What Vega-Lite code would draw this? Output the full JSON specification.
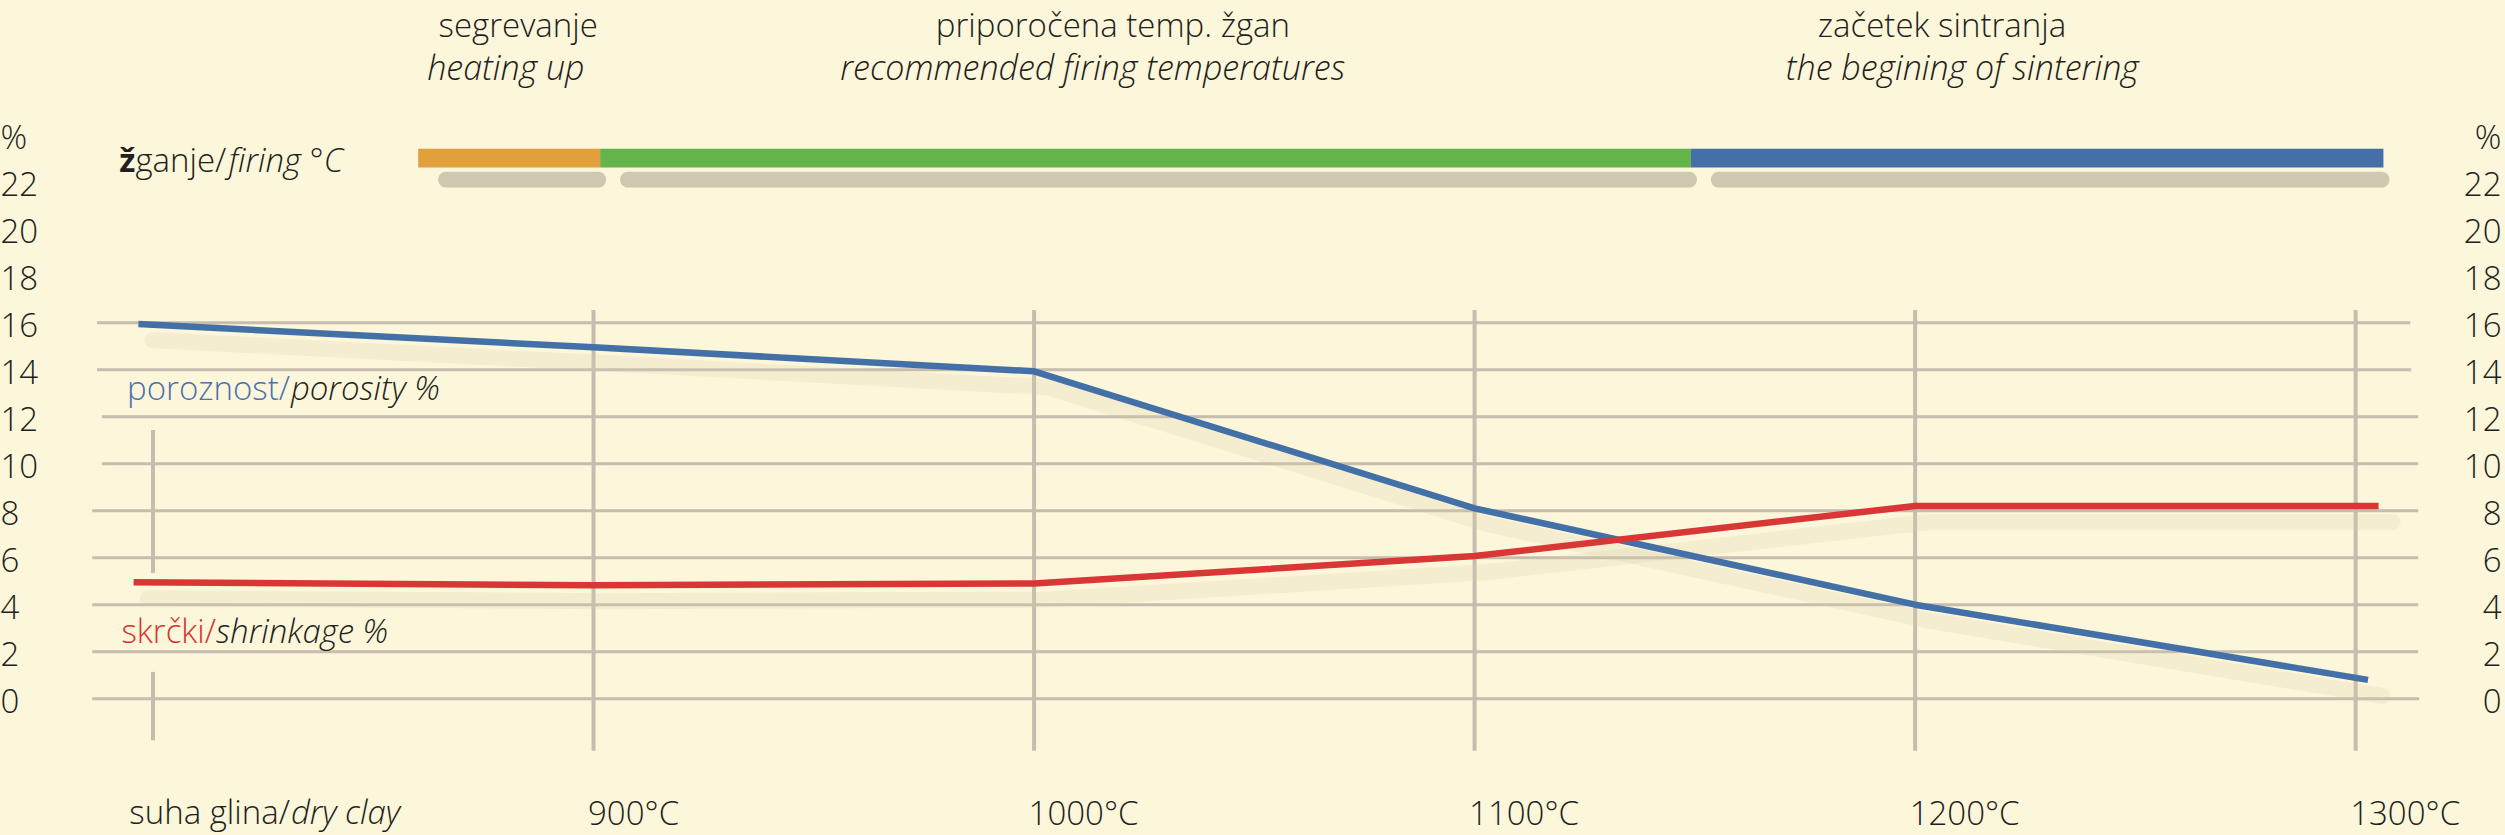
{
  "$schema": "https://vega.github.io/schema/vega-lite/v6.json",
  "width": 2505,
  "height": 835,
  "padding": 0,
  "autosize": {"type": "none"},
  "background": "#FCF6DA",
  "config": {
    "view": {"stroke": null},
    "text": {"font": "Open Sans", "fontSize": 33, "fontWeight": 300, "color": "#231F20"}
  },
  "datasets": {
    "series": [
      {"temp": 796.7, "value": 15.94, "series": "porosity"},
      {"temp": 900, "value": 14.95, "series": "porosity"},
      {"temp": 1000, "value": 13.93, "series": "porosity"},
      {"temp": 1100, "value": 8.1, "series": "porosity"},
      {"temp": 1200, "value": 4.0, "series": "porosity"},
      {"temp": 1302.8, "value": 0.8, "series": "porosity"},
      {"temp": 795.6, "value": 4.95, "series": "shrinkage"},
      {"temp": 900, "value": 4.83, "series": "shrinkage"},
      {"temp": 1000, "value": 4.9, "series": "shrinkage"},
      {"temp": 1100, "value": 6.07, "series": "shrinkage"},
      {"temp": 1200, "value": 8.2, "series": "shrinkage"},
      {"temp": 1305.2, "value": 8.2, "series": "shrinkage"}
    ],
    "hgrid": [
      {"value": 16, "start": 787.3, "end": 1312.4},
      {"value": 14, "start": 787.3, "end": 1312.6},
      {"value": 12, "start": 788.4, "end": 1314.2},
      {"value": 10, "start": 788.4, "end": 1314.2},
      {"value": 8, "start": 786.2, "end": 1314.2},
      {"value": 6, "start": 786.2, "end": 1314.2},
      {"value": 4, "start": 786.2, "end": 1314.2},
      {"value": 2, "start": 786.2, "end": 1314.2},
      {"value": 0, "start": 786.2, "end": 1314.4}
    ],
    "vgrid": [
      {"temp": 800, "from": 11.43, "to": 5.35},
      {"temp": 800, "from": 1.14, "to": -1.77},
      {"temp": 900, "from": 16.54, "to": -2.22},
      {"temp": 1000, "from": 16.54, "to": -2.22},
      {"temp": 1100, "from": 16.54, "to": -2.22},
      {"temp": 1200, "from": 16.54, "to": -2.22},
      {"temp": 1300, "from": 16.54, "to": -2.22}
    ],
    "phases": [
      {"phase": "heating up", "start": 860.2, "end": 901.5},
      {"phase": "recommended", "start": 901.5, "end": 1149.1},
      {"phase": "sintering", "start": 1149.1, "end": 1306.3}
    ]
  },
  "resolve": {"axis": {"x": "independent", "y": "independent"}},
  "layer": [
    {
      "data": {"name": "hgrid"},
      "mark": {"type": "rule", "strokeWidth": 3, "color": "#C6BDAE"},
      "encoding": {
        "x": {"field": "start", "type": "quantitative", "scale": {"domain": [765.27, 1333.9], "nice": false, "zero": false}, "axis": null},
        "x2": {"field": "end"},
        "y": {"field": "value", "type": "quantitative", "scale": {"domain": [-5.8, 29.73], "nice": false, "zero": false},
          "axis": {"orient": "left", "values": [0, 2, 4, 6, 8, 10, 12, 14, 16, 18, 20, 22, 24],
            "labelExpr": "datum.value == 24 ? '%' : datum.label",
            "domain": false, "ticks": false, "tickSize": 0, "grid": false, "title": null,
            "labelAlign": "left", "labelBaseline": "middle", "labelPadding": 0, "offset": 0, "labelOffset": 4,
            "labelFont": "Open Sans", "labelFontSize": 33, "labelFontWeight": 300, "labelColor": "#231F20",
            "labelFlush": false, "labelOverlap": false}}
      }
    },
    {
      "data": {"name": "vgrid"},
      "mark": {"type": "rule", "strokeWidth": 4, "color": "#C6BDAE"},
      "encoding": {
        "x": {"field": "temp", "type": "quantitative", "scale": {"domain": [765.27, 1333.9], "nice": false, "zero": false},
          "axis": {"orient": "bottom", "values": [900, 1000, 1100, 1200, 1300],
            "labelExpr": "datum.value + '°C'",
            "domain": false, "ticks": false, "tickSize": 0, "grid": false, "title": null,
            "labelAlign": "left", "labelBaseline": "alphabetic", "labelPadding": 0, "offset": -11, "labelOffset": -6,
            "labelFont": "Open Sans", "labelFontSize": 33, "labelFontWeight": 300, "labelColor": "#231F20",
            "labelFlush": false, "labelOverlap": false}},
        "y": {"field": "from", "type": "quantitative", "scale": {"domain": [-5.8, 29.73], "nice": false, "zero": false},
          "axis": {"orient": "right", "values": [0, 2, 4, 6, 8, 10, 12, 14, 16, 18, 20, 22, 24],
            "labelExpr": "datum.value == 24 ? '%' : datum.label",
            "domain": false, "ticks": false, "tickSize": 0, "grid": false, "title": null,
            "labelAlign": "right", "labelBaseline": "middle", "labelPadding": 0, "offset": -4, "labelOffset": 4,
            "labelFont": "Open Sans", "labelFontSize": 33, "labelFontWeight": 300, "labelColor": "#231F20",
            "labelFlush": false, "labelOverlap": false}},
        "y2": {"field": "to"}
      }
    },
    {
      "data": {"name": "series"},
      "mark": {"type": "line", "strokeWidth": 16, "opacity": 0.2, "color": "#D6CDA8", "xOffset": 14, "yOffset": 16, "strokeCap": "round"},
      "encoding": {
        "x": {"field": "temp", "type": "quantitative", "axis": null},
        "y": {"field": "value", "type": "quantitative", "axis": null},
        "detail": {"field": "series"}
      }
    },
    {
      "data": {"name": "phases"},
      "mark": {"type": "rect", "color": "#BDB8A0", "opacity": 0.75, "cornerRadius": 8, "xOffset": 20, "x2Offset": 6, "yOffset": 23, "y2Offset": 20},
      "encoding": {
        "x": {"field": "start", "type": "quantitative", "axis": null},
        "x2": {"field": "end"},
        "y": {"datum": 23.4, "type": "quantitative", "axis": null},
        "y2": {"datum": 22.6}
      }
    },
    {
      "data": {"name": "phases"},
      "mark": {"type": "rect"},
      "encoding": {
        "x": {"field": "start", "type": "quantitative", "axis": null},
        "x2": {"field": "end"},
        "y": {"datum": 23.4, "type": "quantitative", "axis": null},
        "y2": {"datum": 22.6},
        "color": {"field": "phase", "type": "nominal", "legend": null,
          "scale": {"domain": ["heating up", "recommended", "sintering"], "range": ["#E1A03C", "#65B34B", "#4470A7"]}}
      }
    },
    {
      "data": {"name": "series"},
      "mark": {"type": "line", "strokeWidth": 6.5, "strokeCap": "butt", "strokeJoin": "round"},
      "encoding": {
        "x": {"field": "temp", "type": "quantitative", "axis": null},
        "y": {"field": "value", "type": "quantitative", "axis": null},
        "stroke": {"field": "series", "type": "nominal", "legend": null,
          "scale": {"domain": ["porosity", "shrinkage"], "range": ["#4470A8", "#D93636"]}}
      }
    },
    {
      "data": {"values": [
        {"temp": 882.9, "value": 28.15, "text": "segrevanje"},
        {"temp": 1017.9, "value": 28.15, "text": "priporočena temp. žgan"},
        {"temp": 1206.1, "value": 28.15, "text": "začetek sintranja"}
      ]},
      "mark": {"type": "text", "align": "center", "baseline": "alphabetic", "fontSize": 33},
      "encoding": {
        "x": {"field": "temp", "type": "quantitative", "axis": null},
        "y": {"field": "value", "type": "quantitative", "axis": null},
        "text": {"field": "text"}
      }
    },
    {
      "data": {"values": [
        {"temp": 880.1, "value": 26.33, "text": "heating up"},
        {"temp": 1013.3, "value": 26.33, "text": "recommended firing temperatures"},
        {"temp": 1210.7, "value": 26.33, "text": "the begining of sintering"}
      ]},
      "mark": {"type": "text", "align": "center", "baseline": "alphabetic", "fontStyle": "italic", "fontSize": 34},
      "encoding": {
        "x": {"field": "temp", "type": "quantitative", "axis": null},
        "y": {"field": "value", "type": "quantitative", "axis": null},
        "text": {"field": "text"}
      }
    },
    {
      "data": {"values": [
        {"temp": 796.0, "value": 22.41, "text": "ž"}
      ]},
      "mark": {"type": "text", "align": "right", "baseline": "alphabetic", "fontWeight": "bold"},
      "encoding": {
        "x": {"field": "temp", "type": "quantitative", "axis": null},
        "y": {"field": "value", "type": "quantitative", "axis": null},
        "text": {"field": "text"}
      }
    },
    {
      "data": {"values": [
        {"temp": 796.0, "value": 22.41, "text": "ganje/"}
      ]},
      "mark": {"type": "text", "align": "left", "baseline": "alphabetic"},
      "encoding": {
        "x": {"field": "temp", "type": "quantitative", "axis": null},
        "y": {"field": "value", "type": "quantitative", "axis": null},
        "text": {"field": "text"}
      }
    },
    {
      "data": {"values": [
        {"temp": 831.1, "value": -5.33, "text": "suha glina/"}
      ]},
      "mark": {"type": "text", "align": "right", "baseline": "alphabetic"},
      "encoding": {
        "x": {"field": "temp", "type": "quantitative", "axis": null},
        "y": {"field": "value", "type": "quantitative", "axis": null},
        "text": {"field": "text"}
      }
    },
    {
      "data": {"values": [
        {"temp": 817.2, "value": 22.41, "text": "firing °C"},
        {"temp": 831.3, "value": 12.71, "text": "porosity %"},
        {"temp": 814.3, "value": 2.37, "text": "shrinkage %"},
        {"temp": 831.3, "value": -5.33, "text": "dry clay"}
      ]},
      "mark": {"type": "text", "align": "left", "baseline": "alphabetic", "fontStyle": "italic"},
      "encoding": {
        "x": {"field": "temp", "type": "quantitative", "axis": null},
        "y": {"field": "value", "type": "quantitative", "axis": null},
        "text": {"field": "text"}
      }
    },
    {
      "data": {"values": [
        {"temp": 831.1, "value": 12.71, "text": "poroznost/"}
      ]},
      "mark": {"type": "text", "align": "right", "baseline": "alphabetic", "color": "#4A72AE"},
      "encoding": {
        "x": {"field": "temp", "type": "quantitative", "axis": null},
        "y": {"field": "value", "type": "quantitative", "axis": null},
        "text": {"field": "text"}
      }
    },
    {
      "data": {"values": [
        {"temp": 814.3, "value": 2.37, "text": "skrčki/"}
      ]},
      "mark": {"type": "text", "align": "right", "baseline": "alphabetic", "color": "#D8312F"},
      "encoding": {
        "x": {"field": "temp", "type": "quantitative", "axis": null},
        "y": {"field": "value", "type": "quantitative", "axis": null},
        "text": {"field": "text"}
      }
    }
  ]
}
